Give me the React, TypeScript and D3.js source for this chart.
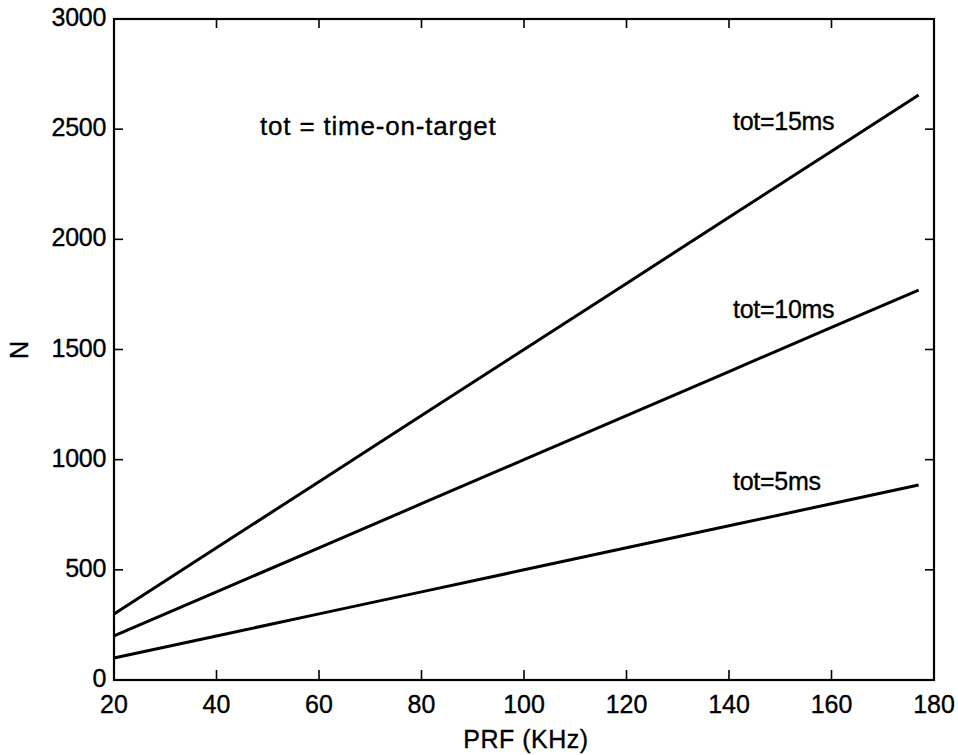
import React from "react";
import * as d3 from "d3";

const prf = [20, 40, 60, 80, 100, 120, 140, 160, 177];
const tot15 = [300, 600, 900, 1200, 1500, 1800, 2100, 2400, 2655];
const tot10 = [200, 400, 600, 800, 1000, 1200, 1400, 1600, 1770];
const tot5 = [100, 200, 300, 400, 500, 600, 700, 800, 885];
const xTicks = [20, 40, 60, 80, 100, 120, 140, 160, 180];
const yTicks = [0, 500, 1000, 1500, 2000, 2500, 3000];
const seriesLabels = [
  { text: "tot=15ms", x: 140.8, y: 2496 },
  { text: "tot=10ms", x: 140.8, y: 1643 },
  { text: "tot=5ms", x: 140.8, y: 862 },
];
const note = { text: "tot = time-on-target", x: 48.5, y: 2475 };

const W = 958, H = 755;
const L = 114, R = 934, T = 19, B = 680;

export default function App() {
  const x = d3.scaleLinear().domain([20, 180]).range([L, R]);
  const y = d3.scaleLinear().domain([0, 3000]).range([B, T]);
  const line = d3.line<number>().x((_, i) => x(prf[i])).y((d) => y(d));
  const font = "Liberation Sans, Arial, sans-serif";
  const series = [tot15, tot10, tot5];
  const ts = { stroke: "#000", strokeWidth: 0.35 };
  return (
    <svg width={W} height={H} style={{ position: "absolute", left: 0, top: 0, background: "#fff" }}
      fontFamily={font}>
      <rect x={0} y={0} width={W} height={H} fill="#fff" />
      {series.map((s, i) => (
        <path key={i} d={line(s) || ""} fill="none" stroke="#000" strokeWidth={3} />
      ))}
      <rect x={L} y={T} width={R - L} height={B - T} fill="none" stroke="#000" strokeWidth={2.2} />
      {xTicks.slice(1, -1).map((t) => (
        <g key={"xt" + t}>
          <line x1={x(t)} x2={x(t)} y1={B} y2={B - 10} stroke="#000" strokeWidth={1.6} />
          <line x1={x(t)} x2={x(t)} y1={T} y2={T + 9} stroke="#000" strokeWidth={1.6} />
        </g>
      ))}
      {yTicks.slice(1, -1).map((t) => (
        <g key={"yt" + t}>
          <line x1={L} x2={L + 9} y1={y(t)} y2={y(t)} stroke="#000" strokeWidth={1.6} />
          <line x1={R} x2={R - 9} y1={y(t)} y2={y(t)} stroke="#000" strokeWidth={1.6} />
        </g>
      ))}
      {xTicks.map((t) => (
        <text key={"xl" + t} x={x(t)} y={713} textAnchor="middle" fontSize={25} {...ts}>
          {t}
        </text>
      ))}
      {yTicks.map((t) => (
        <text key={"yl" + t} x={106} y={y(t) + 7} textAnchor="end" fontSize={25} letterSpacing={-0.3} {...ts}>
          {t}
        </text>
      ))}
      <text x={526} y={748} textAnchor="middle" fontSize={25} letterSpacing={0.5} {...ts}>PRF (KHz)</text>
      <text transform={`translate(28,350) rotate(-90)`} textAnchor="middle" fontSize={25} {...ts}>N</text>
      <text x={x(note.x)} y={y(note.y)} fontSize={26} letterSpacing={0.8} {...ts}>{note.text}</text>
      {seriesLabels.map((l) => (
        <text key={l.text} x={x(l.x)} y={y(l.y)} fontSize={25} letterSpacing={-0.3} {...ts}>
          {l.text}
        </text>
      ))}
    </svg>
  );
}
